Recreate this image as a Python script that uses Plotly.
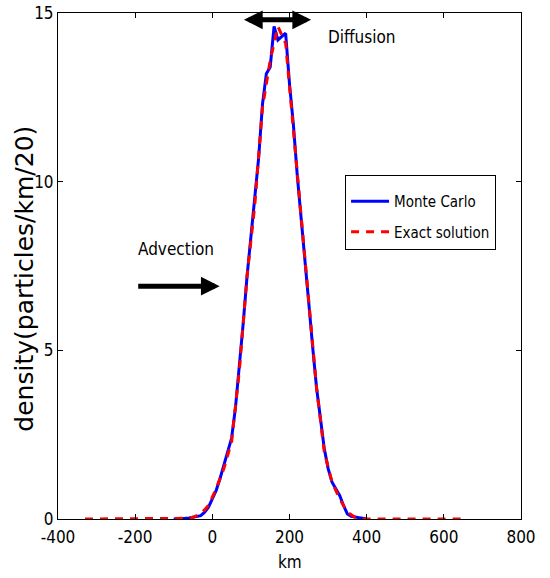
import plotly.graph_objects as go

# ---------------- data ----------------
mc_x = list(range(-100, 401, 10))
mc_y = [0, 0, 0.01, 0.02, 0.03, 0.05, 0.08, 0.1, 0.2, 0.35,
        0.6, 0.85, 1.2, 1.6, 2.0, 2.4, 3.3, 4.5, 5.8, 7.2,
        8.3, 9.4, 10.7, 12.3, 13.2, 13.4, 14.6, 14.2, 14.3, 14.4,
        12.9, 11.7, 10.2, 9.0, 7.7, 6.4, 5.1, 3.9, 3.0, 2.1,
        1.5, 1.1, 0.9, 0.7, 0.4, 0.15, 0.08, 0.05, 0.04, 0.02,
        0]

ex_x = list(range(-330, 651, 20))
ex_y = [0, 0, 0, 0, 0, 0, 0, 0, 0, 0,
        0, 0, 0, 0.02, 0.05, 0.15, 0.4, 0.9, 1.5, 2.3,
        4.4, 7.2, 9.3, 12.2, 13.6, 14.6, 14.1, 11.6, 9.0, 6.4,
        3.9, 2.0, 1.1, 0.6, 0.2, 0.05, 0, 0, 0, 0,
        0, 0, 0, 0, 0, 0, 0, 0, 0, 0]

x_ticks = [-400, -200, 0, 200, 400, 600, 800]
x_tick_labels = ["-400", "-200", "0", "200", "400", "600", "800"]
y_ticks = [0, 5, 10, 15]
y_tick_labels = ["0", "5", "10", "15"]

series_names = ["Monte Carlo", "Exact solution"]
x_title = "km"
y_title = "density(particles/km/20)"

# annotation anchors (data coords)
diffusion_arrow = {"x0": 78, "x1": 256, "y": 14.8}
advection_arrow = {"x0": -196, "x1": 19, "y": 6.9}
diffusion_label = {"x": 389, "y": 14.3, "text": "Diffusion"}
advection_label = {"x": -95, "y": 8.0, "text": "Advection"}

NARROW = "DejaVu Sans Condensed, Liberation Sans, sans-serif"

fig = go.Figure()
fig.add_trace(go.Scatter(x=mc_x, y=mc_y, mode="lines", name=series_names[0],
                         line=dict(color="#0000ff", width=3),
                         legendgroup="a"))
fig.add_trace(go.Scatter(x=ex_x, y=ex_y, mode="lines", name=series_names[1],
                         line=dict(color="#ff0000", width=3, dash="8px,7px"),
                         legendgroup="b"))

# arrows
fig.add_annotation(x=diffusion_arrow["x1"], y=diffusion_arrow["y"],
                   ax=diffusion_arrow["x0"], ay=diffusion_arrow["y"],
                   xref="x", yref="y", axref="x", ayref="y", text="",
                   showarrow=True, arrowhead=2, arrowside="end+start",
                   arrowwidth=5, arrowsize=0.75, arrowcolor="black")
fig.add_annotation(x=advection_arrow["x1"], y=advection_arrow["y"],
                   ax=advection_arrow["x0"], ay=advection_arrow["y"],
                   xref="x", yref="y", axref="x", ayref="y", text="",
                   showarrow=True, arrowhead=2, arrowside="end",
                   arrowwidth=5, arrowsize=0.75, arrowcolor="black")
for lab in (diffusion_label, advection_label):
    fig.add_annotation(x=lab["x"], y=lab["y"], text=lab["text"],
                       xref="x", yref="y", showarrow=False,
                       font=dict(family=NARROW, size=17, color="black"))

# axis titles as positioned text
fig.add_annotation(x=-0.0713, y=0.475, xref="paper", yref="paper",
                   text=y_title, textangle=-90, showarrow=False,
                   xanchor="center", yanchor="middle",
                   font=dict(family="DejaVu Sans", size=25, color="black"))
fig.add_annotation(x=0.5, y=-0.085, xref="paper", yref="paper",
                   text=x_title, showarrow=False,
                   xanchor="center", yanchor="middle",
                   font=dict(family=NARROW, size=17, color="black"))

axis_common = dict(showline=True, linecolor="black", linewidth=1, mirror="ticks",
                   ticks="inside", ticklen=5, tickcolor="black", showgrid=False,
                   zeroline=False, automargin=False, ticklabeloverflow="allow",
                   tickfont=dict(family=NARROW, size=17, color="black"))

fig.update_xaxes(range=[-400, 800], tickvals=x_ticks, ticktext=x_tick_labels,
                 ticklabelstandoff=3, **axis_common)
fig.update_yaxes(range=[0, 15], tickvals=y_ticks, ticktext=y_tick_labels,
                 **axis_common)

fig.update_layout(
    width=550, height=578,
    margin=dict(l=58, r=29, t=13, b=59),
    paper_bgcolor="white", plot_bgcolor="white",
    showlegend=True,
    legend=dict(x=0.62, y=0.68, xanchor="left", yanchor="top",
                bgcolor="white", bordercolor="black", borderwidth=1,
                font=dict(family=NARROW, size=15, color="black"),
                title=dict(text=" ", font=dict(size=7)),
                tracegroupgap=8, itemwidth=38),
)

fig.write_html("out.html",
               config={"displayModeBar": False},
               post_script="document.body.style.margin='0';document.body.style.overflow='hidden';")
